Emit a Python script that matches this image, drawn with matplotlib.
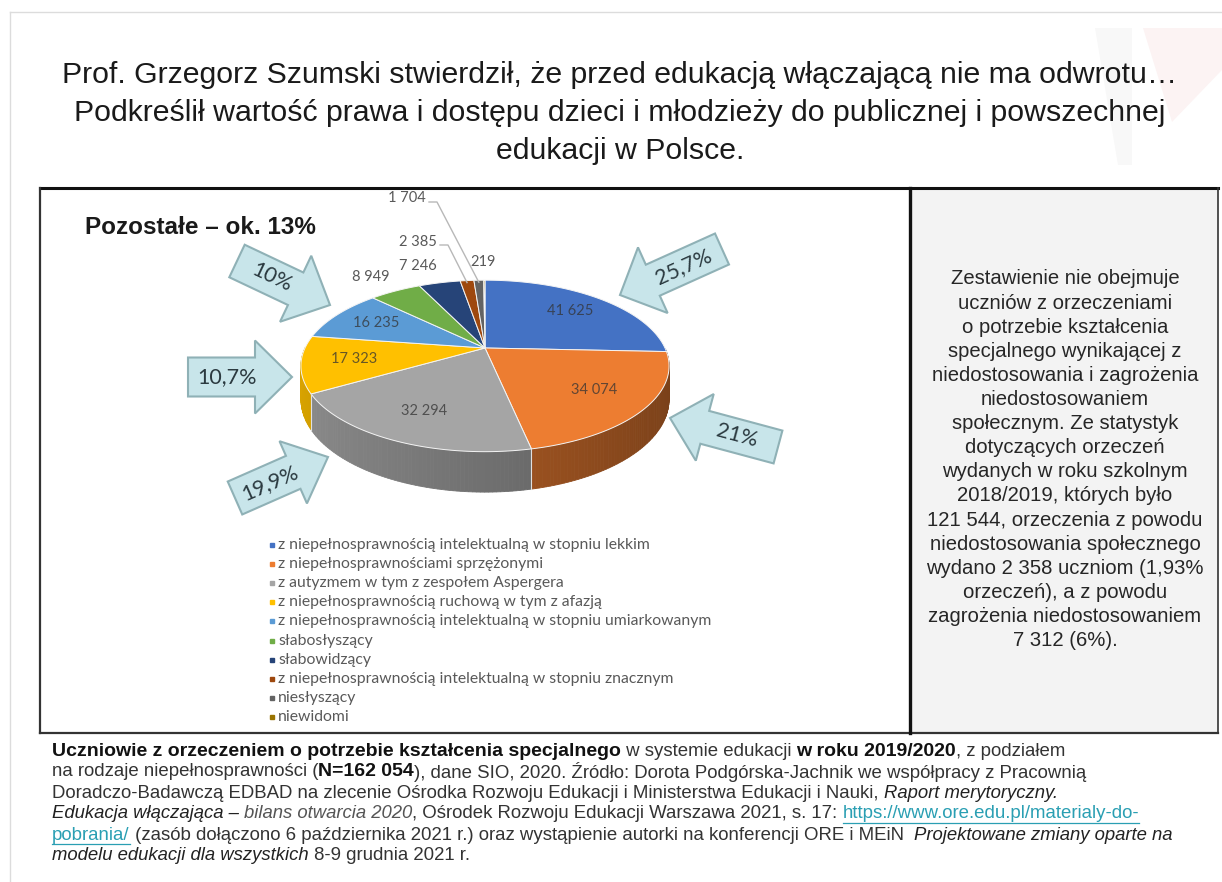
import numpy as np
import matplotlib
matplotlib.use('Agg')
import matplotlib.pyplot as plt
from matplotlib.patches import Polygon, FancyArrow, Rectangle
from matplotlib.colors import to_rgb

# data
categories = [
    'z niepełnosprawnością intelektualną w stopniu lekkim',
    'z niepełnosprawnościami sprzężonymi',
    'z autyzmem w tym z zespołem Aspergera',
    'z niepełnosprawnością ruchową w tym z afazją',
    'z niepełnosprawnością intelektualną w stopniu umiarkowanym',
    'słabosłyszący',
    'słabowidzący',
    'z niepełnosprawnością intelektualną w stopniu znacznym',
    'niesłyszący',
    'niewidomi',
]
counts = [41625, 34074, 32294, 17323, 16235, 8949, 7246, 2385, 1704, 219]
colors = ['#4472C4', '#ED7D31', '#A5A5A5', '#FFC000', '#5B9BD5',
          '#70AD47', '#264478', '#9E480E', '#636363', '#997300']
arrow_labels = ['25,7%', '21%', '19,9%', '10,7%', '10%']

title_lines = [
    'Prof. Grzegorz Szumski stwierdził, że przed edukacją włączającą nie ma odwrotu…',
    'Podkreślił wartość prawa i dostępu dzieci i młodzieży do publicznej i powszechnej',
    'edukacji w Polsce.',
]
panel_lines = [
    'Zestawienie nie obejmuje', 'uczniów z orzeczeniami', 'o potrzebie kształcenia',
    'specjalnego wynikającej z', 'niedostosowania i zagrożenia', 'niedostosowaniem',
    'społecznym. Ze statystyk', 'dotyczących orzeczeń', 'wydanych w roku szkolnym',
    '2018/2019, których było', '121 544, orzeczenia z powodu', 'niedostosowania społecznego',
    'wydano 2 358 uczniom (1,93%', 'orzeczeń), a z powodu', 'zagrożenia niedostosowaniem',
    '7 312 (6%).',
]
# caption runs: (text, style)  style: n normal, b bold, i italic, g grey italic, l link
caption = [
    [('Uczniowie z orzeczeniem o potrzebie kształcenia specjalnego', 'b'),
     (' w systemie edukacji ', 'n'), ('w roku 2019/2020', 'b'), (', z podziałem', 'n')],
    [('na rodzaje niepełnosprawności (', 'n'), ('N=162 054', 'b'),
     ('), dane SIO, 2020. Źródło: Dorota Podgórska-Jachnik we współpracy z Pracownią', 'n')],
    [('Doradczo-Badawczą EDBAD na zlecenie Ośrodka Rozwoju Edukacji i Ministerstwa Edukacji i Nauki, ', 'n'),
     ('Raport merytoryczny.', 'i')],
    [('Edukacja włączająca – ', 'i'), ('bilans otwarcia 2020', 'g'),
     (', Ośrodek Rozwoju Edukacji Warszawa 2021, s. 17: ', 'n'),
     ('https://www.ore.edu.pl/materialy-do-', 'l')],
    [('pobrania/', 'l'), (' (zasób dołączono 6 października 2021 r.) oraz wystąpienie autorki na konferencji ORE i MEiN  ', 'n'),
     ('Projektowane zmiany oparte na', 'i')],
    [('modelu edukacji dla wszystkich', 'i'), (' 8-9 grudnia 2021 r.', 'n')],
]

fig = plt.figure(figsize=(12.22, 8.82), dpi=100)
ax = fig.add_axes([0, 0, 1, 1])
ax.set_xlim(0, 1222)
ax.set_ylim(882, 0)
ax.axis('off')
renderer = fig.canvas.get_renderer()

SANS = 'Liberation Sans'
CHART = 'Lato'

# slide frame and faint decoration
ax.plot([10, 10], [12, 882], color='#dcdcdc', lw=1)
ax.plot([10, 1222], [12, 12], color='#dcdcdc', lw=1)
ax.add_patch(Polygon([(1095, 28), (1132, 28), (1132, 165), (1118, 165)], closed=True,
                     fc='#f8f8f8', ec='none'))
ax.add_patch(Polygon([(1143, 28), (1222, 28), (1222, 70), (1172, 122)], closed=True,
                     fc='#fcf3f3', ec='none'))

for i, line in enumerate(title_lines):
    ax.text(620, 75 + 38 * i, line, ha='center', va='center', fontsize=21.8,
            family=SANS, color='#1a1a1a')

# chart box + side panel
ax.add_patch(Rectangle((910, 188), 308, 545, fc='#f3f3f3', ec='none'))
ax.plot([40, 1218], [188, 188], color='#111111', lw=2.2)
ax.plot([40, 40], [188, 733], color='#333333', lw=1.6)
ax.plot([40, 1218], [733, 733], color='#333333', lw=1.6)
ax.plot([910, 910], [188, 733], color='#111111', lw=2.4)
ax.plot([1218, 1218], [188, 733], color='#333333', lw=1.2)

for i, line in enumerate(panel_lines):
    ax.text(1065, 279 + 24.1 * i, line, ha='center', va='center', fontsize=14.6,
            family=SANS, color='#262626')

# 3D pie with perspective
CX, CY, R, RY, K, D0 = 485, 348, 180, 82, 0.209, 32


def proj(theta, f=1.0, depth=0.0):
    u = f * np.cos(theta)
    v = f * np.sin(theta)
    w = 1 + K * v
    return CX + R * u / w, CY - RY * v / w + depth / w


total = sum(counts)
cum = np.concatenate([[0], np.cumsum(counts)])
theta = np.deg2rad(90 - 360 * cum / total)

# side walls (front half only)
for i, c in enumerate(colors):
    n = max(2, int(abs(np.rad2deg(theta[i] - theta[i + 1]))) + 2)
    t = np.linspace(theta[i], theta[i + 1], n)
    base = np.array(to_rgb(c))
    for a, b in zip(t[:-1], t[1:]):
        m = (a + b) / 2
        if np.sin(m) >= 0:
            continue
        shade = 0.68 - 0.17 * np.cos(m)
        col = np.clip(base * shade, 0, 1)
        xa, ya = proj(a)
        xb, yb = proj(b)
        xa2, ya2 = proj(a, depth=D0)
        xb2, yb2 = proj(b, depth=D0)
        ax.add_patch(Polygon([(xa, ya), (xb, yb), (xb2, yb2), (xa2, ya2)], closed=True,
                             fc=col, ec=col, lw=0.6))
for th in theta:
    if np.sin(th) < -0.05:
        x1, y1 = proj(th)
        x2, y2 = proj(th, depth=D0)
        ax.plot([x1, x2], [y1, y2], color='#e0e0e0', lw=0.8)

# top faces
for i, c in enumerate(colors):
    n = max(3, int(abs(np.rad2deg(theta[i] - theta[i + 1]))) * 2 + 2)
    t = np.linspace(theta[i], theta[i + 1], n)
    xs, ys = proj(t)
    pts = [(CX, CY)] + list(zip(xs, ys))
    ax.add_patch(Polygon(pts, closed=True, fc=c, ec='#f4f4f4', lw=0.7))


def fmt(v):
    return f'{v:,}'.replace(',', ' ')


mid = (theta[:-1] + theta[1:]) / 2
for i in range(5):
    x, y = proj(mid[i], 0.72)
    ax.text(x, y, fmt(counts[i]), ha='center', va='center', fontsize=10.5,
            family=CHART, color='#333333', alpha=0.75)

# outside labels
out_pos = {5: (371, 277), 6: (418, 266), 7: (418, 242), 8: (407, 198), 9: (483, 262)}
for i, (tx, ty) in out_pos.items():
    ax.text(tx, ty, fmt(counts[i]), ha='center', va='center', fontsize=10.5,
            family=CHART, color='#595959')
for i, (sx, sy) in {7: (440, 245), 8: (429, 202)}.items():
    ex, ey = proj(mid[i], 1.0)
    ax.plot([sx, sx + 8, ex], [sy, sy, ey + 2], color='#b8b8b8', lw=1)

# legend
for i, (name, c) in enumerate(zip(categories, colors)):
    y = 545 + 19.1 * i
    ax.plot(272, y, marker='s', ms=3.5, color=c, mec=c)
    ax.text(278, y, name, ha='left', va='center', fontsize=11.3, family=CHART,
            color='#595959')

ax.text(85, 227, 'Pozostałe – ok. 13%', ha='left', va='center', fontsize=17.5,
        weight='bold', family=SANS, color='#1a1a1a')

# block arrows: tail centre, tip, shaft width, head width, head length
arrows = [((722, 249), (620, 295), 34, 72, 36),
          ((778, 447), (670, 418), 34, 69, 36),
          ((235, 498), (328, 457), 36, 68, 38),
          ((188, 377), (292, 377), 39, 73, 37),
          ((237, 261), (330, 305), 36, 73, 38)]
for (tail, tip, sw, hw, hl), lab in zip(arrows, arrow_labels):
    dx, dy = tip[0] - tail[0], tip[1] - tail[1]
    ax.add_patch(FancyArrow(tail[0], tail[1], dx, dy, width=sw, head_width=hw,
                            head_length=hl, length_includes_head=True,
                            fc='#c8e5ea', ec='#8fb1b6', lw=1.5, zorder=5))
    vx, vy = (dx, dy) if dx >= 0 else (-dx, -dy)
    rot = np.degrees(np.arctan2(-vy, vx))
    ax.text(tail[0] + 0.38 * dx, tail[1] + 0.38 * dy, lab, ha='center', va='center',
            rotation=rot, rotation_mode='anchor', fontsize=15.5, family=CHART,
            color='#2b3a40', zorder=6)

# caption with mixed styles
styles = {
    'n': dict(color='#333333', fontsize=13.4),
    'b': dict(color='#111111', weight='bold', fontsize=14.0),
    'i': dict(color='#222222', style='italic', fontsize=13.3),
    'g': dict(color='#555555', style='italic', fontsize=13.3),
    'l': dict(color='#2a9fb3', fontsize=13.4),
}
# the last caption line is cut off on the slide
clip = Rectangle((0, 738), 1222, 118, transform=ax.transData)


def width_of(s, **kw):
    t1 = ax.text(0, 0, s + '|', family=SANS, **kw)
    w1 = t1.get_window_extent(renderer).width
    t1.remove()
    t2 = ax.text(0, 0, '|', family=SANS, **kw)
    w2 = t2.get_window_extent(renderer).width
    t2.remove()
    return w1 - w2


for j, runs in enumerate(caption):
    y = 751 + 21 * j
    x = 52
    for txt, st in runs:
        kw = styles[st]
        t = ax.text(x, y, txt, ha='left', va='center', family=SANS, **kw)
        t.set_clip_path(clip)
        w = width_of(txt, **kw)
        if st == 'l':
            ax.plot([x, x + w], [y + 9, y + 9], color=kw['color'], lw=0.9)
        x += w

fig.savefig('out.png', dpi=100)
